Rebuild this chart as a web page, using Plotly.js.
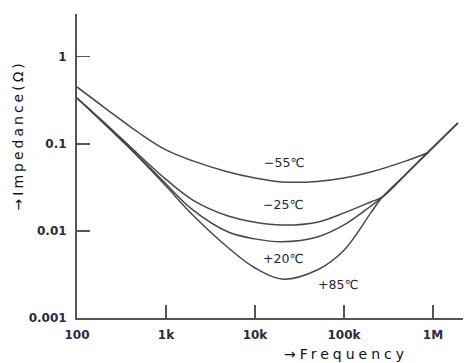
<!DOCTYPE html>
<html>
<head>
<meta charset="utf-8">
<script src="https://cdn.plot.ly/plotly-3.0.1.min.js"></script>
<style>
html,body{margin:0;padding:0;background:#fff;}
#chart{width:464px;height:363px;}
</style>
</head>
<body>
<div id="chart"></div>
<script>
// Frequency (Hz) and impedance (ohm) values
const freq55 = [100, 200, 500, 1e3, 2e3, 5e3, 1e4, 2e4, 5e4, 1e5, 2e5, 5e5, 9e5];
const z55    = [0.449, 0.264, 0.133, 0.085, 0.0636, 0.0474, 0.0404, 0.0365, 0.0370, 0.0404, 0.0474, 0.0636, 0.080];

const freqLow = [100, 200, 500, 1e3, 2e3, 5e3, 1e4, 2e4, 5e4, 1e5, 2e5, 2.7e5, 5e5, 1e6, 1.9e6];
const z25 = [0.336, 0.178, 0.074, 0.039, 0.0226, 0.0148, 0.0126, 0.0117, 0.0126, 0.0161, 0.0215, 0.0245, 0.045, 0.091, 0.173];
const z20 = [0.336, 0.172, 0.0705, 0.0345, 0.0174, 0.0097, 0.0081, 0.0075, 0.0085, 0.0117, 0.0193, 0.0245, 0.045, 0.091, 0.173];
const z85 = [0.336, 0.172, 0.0687, 0.0327, 0.0152, 0.0064, 0.00375, 0.0028, 0.00356, 0.0060, 0.0161, 0.0245, 0.045, 0.091, 0.173];

const seriesNames = ['−55℃', '−25℃', '+20℃', '+85℃'];

const xTickVals = [100, 1e3, 1e4, 1e5, 1e6];
const xTickText = ['100', '1k', '10k', '100k', '1M'];
const yTickVals = [0.001, 0.01, 0.1, 1];
const yTickText = ['0.001', '0.01', '0.1', '1'];

const lineStyle = {color: '#484848', width: 1.5, shape: 'spline', smoothing: 1};

const traces = [
  {x: freq55, y: z55, name: seriesNames[0]},
  {x: freqLow, y: z25, name: seriesNames[1]},
  {x: freqLow, y: z20, name: seriesNames[2]},
  {x: freqLow, y: z85, name: seriesNames[3]}
].map(t => Object.assign(t, {type: 'scatter', mode: 'lines', line: lineStyle, hoverinfo: 'skip'}));

const tickFont = {family: 'DejaVu Sans', size: 12, color: '#2a2a40', weight: 'bold'};
const labelFont = {family: 'DejaVu Sans', size: 12.5, color: '#262636'};

function lab(text, x, y, extra) {
  return Object.assign({text: text, xref: 'paper', yref: 'paper', x: x, y: y,
    xanchor: 'center', yanchor: 'middle', showarrow: false, font: labelFont}, extra || {});
}

const layout = {
  width: 464, height: 363,
  margin: {l: 77, r: 1, t: 14, b: 45, pad: 0},
  paper_bgcolor: '#fff', plot_bgcolor: '#fff',
  showlegend: false,
  xaxis: {
    type: 'log', range: [2, 6.337],
    showgrid: false, zeroline: false,
    showline: true, linecolor: '#555', linewidth: 2,
    ticks: 'inside', ticklen: 13, tickwidth: 1.5, tickcolor: '#555',
    tickvals: xTickVals, ticktext: xTickText,
    tickfont: tickFont, ticklabelstandoff: 5
  },
  yaxis: {
    type: 'log', range: [-3, 0.49],
    showgrid: false, zeroline: false,
    showline: true, linecolor: '#555', linewidth: 2,
    ticks: 'inside', ticklen: 13, tickwidth: 1.5, tickcolor: '#555',
    tickvals: yTickVals, ticktext: yTickText,
    tickfont: tickFont, ticklabelstandoff: 6
  },
  annotations: [
    lab(seriesNames[0], 0.536, 0.510),
    lab(seriesNames[1], 0.534, 0.375),
    lab(seriesNames[2], 0.534, 0.197),
    lab(seriesNames[3], 0.676, 0.109),
    lab('→Impedance(Ω)', -0.153, 0.602, {textangle: -90, font: {family: 'DejaVu Sans', size: 14, color: '#111'}}),
    lab('→Frequency', 0.697, -0.117, {font: {family: 'DejaVu Sans', size: 14, color: '#111'}})
  ]
};

Plotly.newPlot('chart', traces, layout, {staticPlot: true, displayModeBar: false}).then(() => {
  const a4 = document.querySelector('.annotation[data-index="4"] text');
  const a5 = document.querySelector('.annotation[data-index="5"] text');
  if (a4) a4.style.letterSpacing = '3px';
  if (a5) a5.style.letterSpacing = '4px';
});
</script>
</body>
</html>
